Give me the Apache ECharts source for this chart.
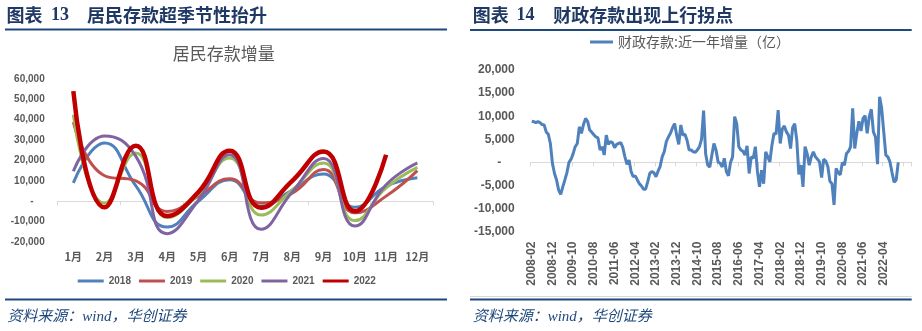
<!DOCTYPE html>
<html><head><meta charset="utf-8">
<script src="https://cdn.jsdelivr.net/npm/echarts@6/dist/echarts.min.js"></script>
<style>html,body{margin:0;padding:0;background:#fff}#c{width:922px;height:331px}</style>
</head><body><div id="c"></div>
<script>
// ---------- Left chart: 居民存款增量 ----------
const monthLabels = ['1月','2月','3月','4月','5月','6月','7月','8月','9月','10月','11月','12月'];
const y2018 = [9000, 28500, 7500, -12700, 0, 10500, -2400, 5500, 13400, -3000, 7300, 11500];
const y2019 = [38800, 12500, 10000, -5000, 2500, 11000, -800, 4000, 15500, -5700, 2500, 15000];
const y2020 = [42400, -1000, 23600, -8000, 3500, 21200, -6800, 5500, 18800, -9500, 6500, 16600];
const y2021 = [14700, 32000, 22000, -15900, 500, 22800, -13800, 4500, 20900, -12200, 8100, 18800];
const y2022 = [54000, -3000, 27200, -7300, 4500, 24800, -3200, 10000, 24400, -4900, 22800];
const yearNames = ['2018', '2019', '2020', '2021', '2022'];

// ---------- Right chart: 财政存款:近一年增量（亿） ----------
const fiscalStartYear = 2008, fiscalStartMonth = 2, fiscalMonthCount = 184;
const fiscalName = '财政存款:近一年增量（亿）';
const fiscalValues = [
 8900, 8800, 8600, 8800, 8600, 8200, 8100, 6600, 6100, 4100,
 -200, -2400, -3800, -6000, -6900, -5300, -3800, -2200, 0, 700,
 1900, 3400, 4100, 7700, 6300, 8200, 9500, 8900, 7000, 6500,
 6000, 5500, 5300, 2700, 3400, 1600, 5900, 3900, 4500, 4300,
 3200, 3900, 4100, 4300, 3200, 1200, -400, 500, -2000, -3100,
 -2900, -3800, -4600, -5100, -5800, -5800, -4200, -2400, -2000, -2200,
 -3100, -1900, -900, 1200, 2300, 4500, 5500, 6300, 7500, 8400,
 5900, 3900, 8100, 5900, 6100, 4800, 2700, 2700, 2300, 2200,
 2700, 3400, 5000, 11200, 1800, -600, -1000, 1600, 4100, 2700,
 100, -200, -1000, 900, -2000, -2900, 0, 1200, 9900, 8400,
 3400, 2700, 2400, 1600, 3600, -2400, 1200, 900, 3400, -2000,
 -5300, -1700, -4600, 2300, 1200, 100, 3700, 6300, 6100, 11300,
 4100, 7200, 7900, 6600, 5900, 3000, 7500, 8400, 4800, -2600,
 -600, -5300, 3400, 1900, -600, 1200, 2300, 1200, 700, 100,
 -3300, 700, 300, -900, -4100, -4600, -9200, -1300, -2200, -2700,
 0, -600, 1900, 2400, 3400, 11700, 3000, 6300, 8900, 6800,
 9500, 10100, 6300, 9900, 11500, 6600, 5500, -400, 14200, 11700,
 6600, 1600, 1200, 100, -2200, -4300, -3800, 0
];
const fiscalMonths = [];
for (let k = 0; k < fiscalMonthCount; k++) {
  const t = (fiscalStartMonth - 1) + k;
  const yr = fiscalStartYear + Math.floor(t / 12);
  const mo = t % 12 + 1;
  fiscalMonths.push(yr + '-' + (mo < 10 ? '0' + mo : mo));
}

const gray = '#595959';
const navy = '#1F3864';
const ruleBlue = '#1F497D';
const numFont = '"Liberation Sans", Arial, sans-serif';
const cjk = '"Noto Sans CJK SC", sans-serif';
const fmt = v => v === 0 ? '-    ' : String(v).replace(/\B(?=(\d{3})+(?!\d))/g, ',');

const chart = echarts.init(document.getElementById('c'));
const lineSeries = (name, data, color, w) => ({
  name, type: 'line', data, xAxisIndex: 0, yAxisIndex: 0, smooth: true,
  symbol: 'none', lineStyle: { color, width: w }, itemStyle: { color }
});

chart.setOption({
  animation: false,
  backgroundColor: '#fff',
  grid: [
    { left: 57.7, width: 375.3, top: 78.9, height: 163.1 },
    { left: 530.7, width: 381, top: 70, height: 161.7 }
  ],
  xAxis: [
    { gridIndex: 0, type: 'category', data: monthLabels, position: 'bottom',
      axisLine: { onZero: true, lineStyle: { color: '#D9D9D9', width: 1 } },
      axisTick: { show: true, length: 4, lineStyle: { color: '#D9D9D9' } },
      axisLabel: { show: false }, splitLine: { show: false } },
    { gridIndex: 0, type: 'category', data: monthLabels, position: 'bottom',
      axisLine: { show: false, onZero: false }, axisTick: { show: false },
      axisLabel: { color: gray, fontSize: 11, fontWeight: 'bold', fontFamily: cjk, margin: 9 } },
    { gridIndex: 1, type: 'category', data: fiscalMonths, position: 'bottom',
      axisLine: { onZero: true, lineStyle: { color: '#D9D9D9', width: 1 } },
      axisTick: { show: true, interval: 9, length: 4, lineStyle: { color: '#D9D9D9' } },
      axisLabel: { show: false }, splitLine: { show: false } },
    { gridIndex: 1, type: 'category', data: fiscalMonths, position: 'bottom',
      axisLine: { show: false, onZero: false }, axisTick: { show: false },
      axisLabel: { rotate: 90, interval: (i) => i % 10 === 0 && i <= 170,
        color: gray, fontSize: 12, fontWeight: 'bold', fontFamily: numFont, margin: 10 } }
  ],
  yAxis: [
    { gridIndex: 0, type: 'value', min: -20000, max: 60000, interval: 10000,
      axisLine: { show: false }, axisTick: { show: false }, splitLine: { show: false },
      axisLabel: { formatter: fmt, color: gray, fontSize: 10, fontWeight: 'bold', fontFamily: numFont, margin: 13 } },
    { gridIndex: 1, type: 'value', min: -15000, max: 20000, interval: 5000,
      axisLine: { show: false }, axisTick: { show: false }, splitLine: { show: false },
      axisLabel: { formatter: fmt, color: gray, fontSize: 12, fontWeight: 'bold', fontFamily: numFont, margin: 16 } }
  ],
  legend: [
    { data: yearNames, left: 77.7, top: 276, padding: 0, itemWidth: 26, itemHeight: 3, itemGap: 8, icon: 'rect',
      textStyle: { color: gray, fontSize: 10, fontWeight: 'bold', fontFamily: numFont } },
    { data: [fiscalName], left: 590, top: 35, padding: 0, itemWidth: 23, itemHeight: 3, icon: 'rect',
      textStyle: { color: gray, fontSize: 14, fontFamily: cjk } }
  ],
  series: [
    lineSeries(yearNames[0], y2018, '#4F81BD', 3),
    lineSeries(yearNames[1], y2019, '#C0504D', 3),
    lineSeries(yearNames[2], y2020, '#9BBB59', 3),
    lineSeries(yearNames[3], y2021, '#8064A2', 3),
    lineSeries(yearNames[4], y2022, '#C00000', 4.5),
    { name: fiscalName, type: 'line', data: fiscalValues, xAxisIndex: 2, yAxisIndex: 1,
      symbol: 'none', lineStyle: { color: '#4F81BD', width: 3 }, itemStyle: { color: '#4F81BD' } }
  ],
  graphic: [
    // left header
    { type: 'text', left: 6.5, top: 6, style: { text: '图表', font: 'bold 18px ' + cjk, fill: navy } },
    { type: 'text', left: 51, top: 6, style: { text: '13', font: 'bold 18px "Liberation Serif", serif', fill: navy } },
    { type: 'text', left: 87, top: 6, style: { text: '居民存款超季节性抬升', font: 'bold 18px ' + cjk, fill: navy } },
    { type: 'rect', shape: { x: 5, y: 28.5, width: 442, height: 2 }, style: { fill: ruleBlue } },
    { type: 'text', x: 223.8, y: 53.3, style: { text: '居民存款增量', font: '17px ' + cjk, fill: gray, align: 'center', verticalAlign: 'middle' } },
    { type: 'rect', shape: { x: 5, y: 298.5, width: 442, height: 2 }, style: { fill: ruleBlue } },
    { type: 'text', x: 7.3, y: 316.7, style: { text: '资料来源：wind，华创证券', font: 'italic 15px "Liberation Serif", ' + cjk, fill: ruleBlue, verticalAlign: 'middle' } },
    // right header
    { type: 'text', left: 472.7, top: 6, style: { text: '图表', font: 'bold 18px ' + cjk, fill: navy } },
    { type: 'text', left: 516.5, top: 6, style: { text: '14', font: 'bold 18px "Liberation Serif", serif', fill: navy } },
    { type: 'text', left: 553.3, top: 6, style: { text: '财政存款出现上行拐点', font: 'bold 18px ' + cjk, fill: navy } },
    { type: 'rect', shape: { x: 470, y: 29, width: 441.7, height: 2 }, style: { fill: ruleBlue } },
    { type: 'rect', shape: { x: 470, y: 296, width: 441.7, height: 1 }, style: { fill: '#D9D9D9' } },
    { type: 'rect', shape: { x: 470, y: 298.5, width: 441.7, height: 2 }, style: { fill: ruleBlue } },
    { type: 'text', x: 472.7, y: 316.7, style: { text: '资料来源：wind，华创证券', font: 'italic 15px "Liberation Serif", ' + cjk, fill: ruleBlue, verticalAlign: 'middle' } }
  ]
});
</script>
</body></html>
